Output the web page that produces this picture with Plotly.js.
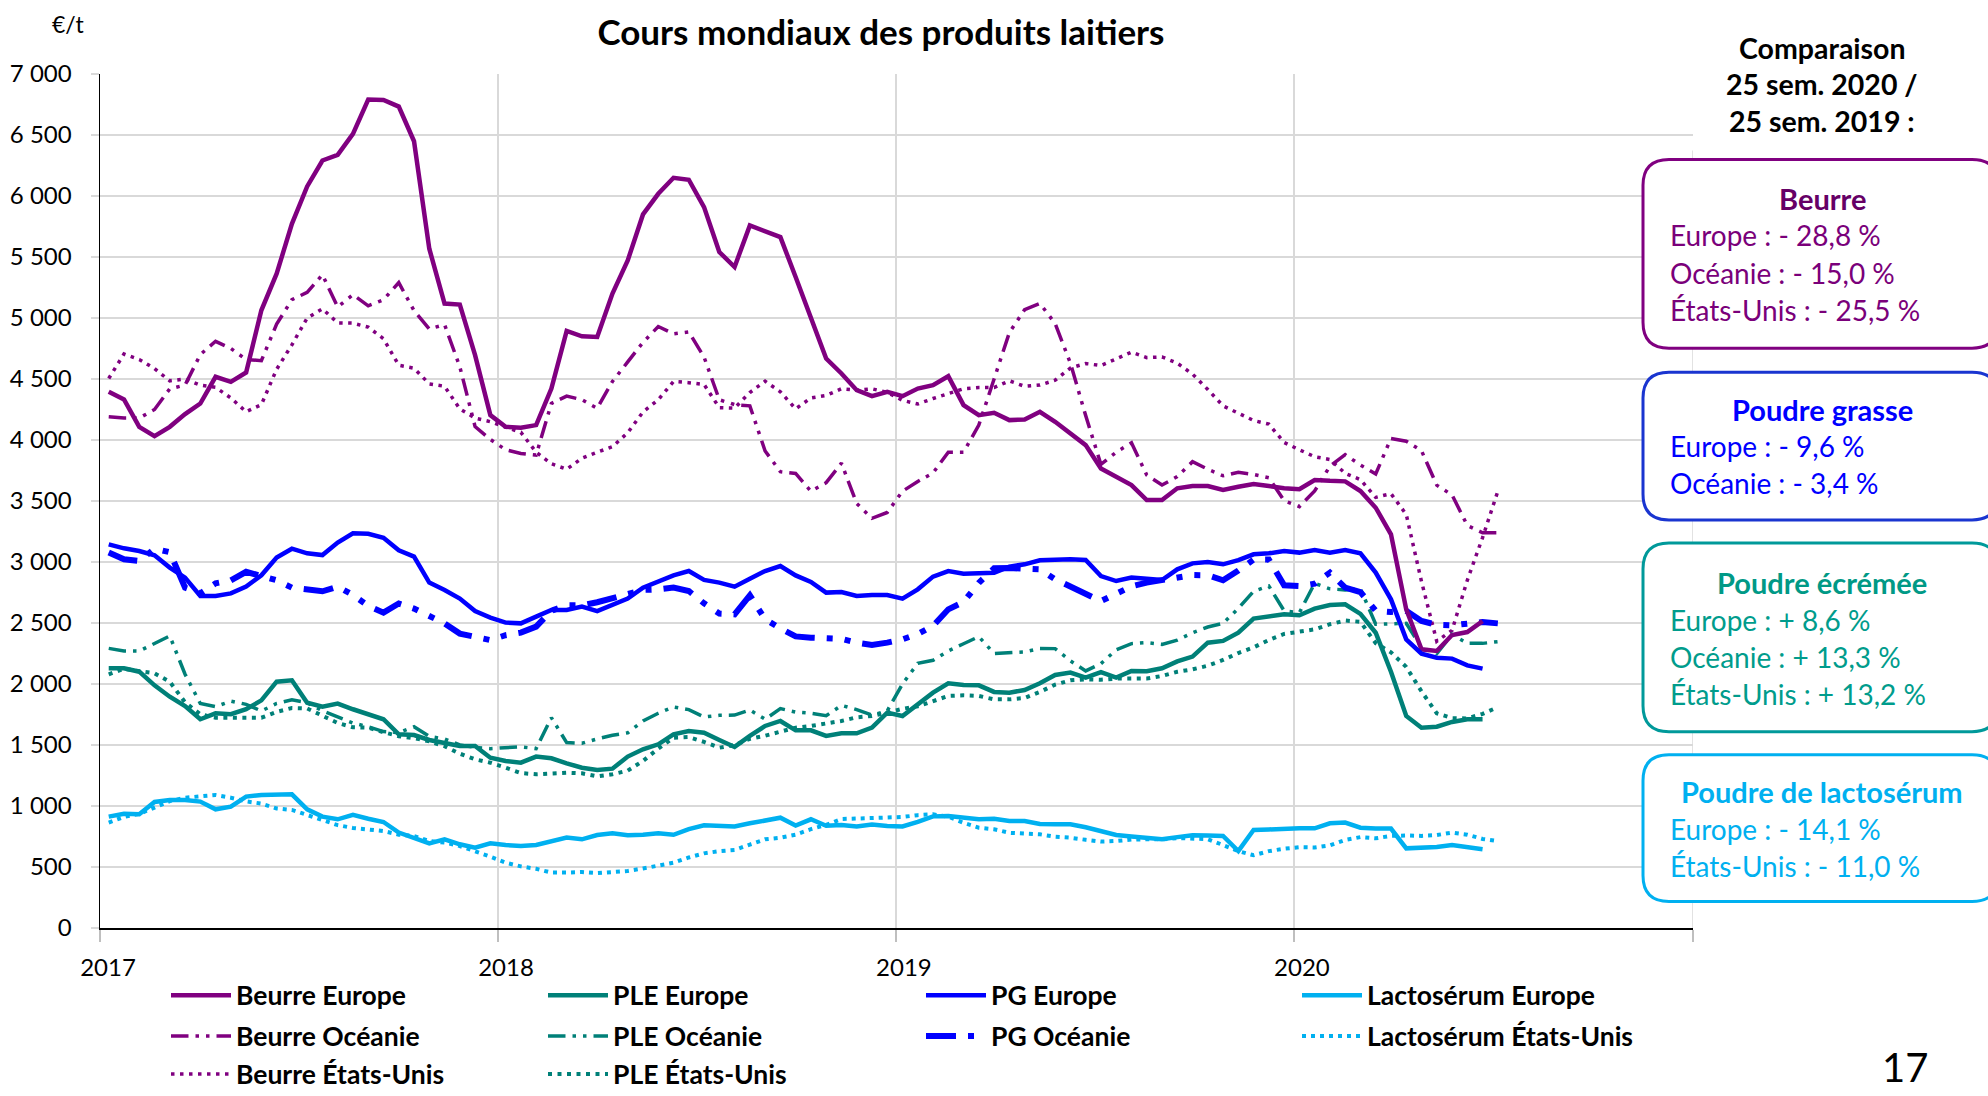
<!DOCTYPE html>
<html><head><meta charset="utf-8">
<script src="https://cdn.plot.ly/plotly-3.0.1.min.js"></script>
<style>html,body{margin:0;padding:0;background:#fff}</style>
</head><body><div id="chart" style="width:1988px;height:1096px"></div>
<script>
const dates = ['2017-01-09','2017-01-23','2017-02-06','2017-02-20','2017-03-06','2017-03-20','2017-04-03','2017-04-17','2017-05-01','2017-05-15','2017-05-29','2017-06-12','2017-06-26','2017-07-10','2017-07-24','2017-08-07','2017-08-21','2017-09-04','2017-09-18','2017-10-02','2017-10-16','2017-10-30','2017-11-13','2017-11-27','2017-12-11','2017-12-25',
'2018-01-08','2018-01-22','2018-02-05','2018-02-19','2018-03-05','2018-03-19','2018-04-02','2018-04-16','2018-04-30','2018-05-14','2018-05-28','2018-06-11','2018-06-25','2018-07-09','2018-07-23','2018-08-06','2018-08-20','2018-09-03','2018-09-17','2018-10-01','2018-10-15','2018-10-29','2018-11-12','2018-11-26','2018-12-10','2018-12-24',
'2019-01-07','2019-01-21','2019-02-04','2019-02-18','2019-03-04','2019-03-18','2019-04-01','2019-04-15','2019-04-29','2019-05-13','2019-05-27','2019-06-10','2019-06-24','2019-07-08','2019-07-22','2019-08-05','2019-08-19','2019-09-02','2019-09-16','2019-09-30','2019-10-14','2019-10-28','2019-11-11','2019-11-25','2019-12-09','2019-12-23',
'2020-01-06','2020-01-20','2020-02-03','2020-02-17','2020-03-02','2020-03-16','2020-03-30','2020-04-13','2020-04-27','2020-05-11','2020-05-25','2020-06-08','2020-06-22','2020-07-06'];

const beurreEurope = [4395,4332,4108,4032,4108,4212,4299,4518,4477,4553,
5063,5363,5772,6078,6291,6337,6509,6790,6787,6733,
6449,5568,5118,5110,4695,4204,4108,4100,4122,4422,
4894,4850,4845,5200,5472,5849,6018,6149,6133,5909,
5541,5418,5759,5712,5663,5336,5009,4668,4545,4408,
4359,4395,4359,4422,4449,4523,4286,4204,4223,4163,
4168,4231,4149,4054,3958,3767,3699,3631,3508,3508,
3604,3623,3623,3590,3617,3639,3623,3604,3596,3672,
3665,3661,3582,3445,3227,2612,2284,2271,2402,2426,2516];

const beurreOceanie = [4190,4180,4180,4250,4420,4450,4700,4809,4750,4660,
4650,4950,5150,5210,5355,5090,5191,5100,5150,5290,
5060,4910,4946,4600,4110,4005,3920,3890,3877,4300,
4360,4330,4260,4480,4640,4800,4930,4870,4886,4680,
4330,4290,4280,3910,3740,3726,3580,3650,3810,3480,
3358,3406,3580,3660,3730,3900,3900,4122,4500,4880,
5068,5120,4954,4630,4200,3800,3900,3977,3713,3631,
3700,3822,3760,3707,3735,3718,3691,3503,3454,3582,
3786,3880,3795,3722,4013,3990,3912,3630,3550,3300,
3240,3240];

const beurreEtatsUnis = [4504,4705,4660,4585,4485,4500,4449,4432,4345,4231,
4290,4580,4780,5000,5075,4960,4958,4925,4830,4613,
4588,4460,4440,4255,4180,4150,4105,4063,3900,3805,
3760,3850,3900,3945,4060,4230,4330,4480,4470,4455,
4265,4262,4389,4482,4395,4255,4345,4365,4420,4408,
4420,4390,4325,4295,4340,4378,4420,4430,4430,4485,
4440,4450,4490,4590,4627,4610,4665,4720,4675,4681,
4630,4540,4414,4280,4220,4160,4130,3980,3920,3863,
3840,3727,3675,3530,3560,3390,2840,2350,2440,2850,
3200,3580];

const pgEurope = [3145,3112,3090,3055,2954,2872,2721,2721,2743,2798,
2891,3036,3109,3071,3057,3159,3235,3232,3199,3096,
3044,2831,2771,2700,2598,2544,2503,2497,2552,2607,
2607,2634,2598,2653,2700,2790,2840,2891,2926,2853,
2831,2798,2863,2926,2967,2890,2836,2749,2754,2721,
2730,2730,2700,2776,2880,2926,2904,2907,2912,2962,
2981,3014,3022,3022,3016,2885,2844,2872,2863,2852,
2940,2989,3000,2981,3016,3063,3071,3090,3077,3098,
3077,3098,3071,2913,2694,2366,2249,2216,2208,2153,2126];

const pgOceanie = [3077,3022,3008,3109,3080,2790,2743,2825,2850,2920,
2885,2850,2790,2770,2760,2798,2730,2640,2585,2660,
2618,2557,2497,2413,2390,2360,2400,2421,2470,2600,
2645,2645,2670,2700,2740,2771,2775,2790,2762,2661,
2577,2571,2727,2530,2456,2390,2380,2378,2370,2339,
2320,2339,2366,2410,2476,2612,2672,2830,2948,2950,
2950,2940,2858,2800,2730,2680,2740,2800,2831,2850,
2880,2893,2891,2850,2930,3020,3020,2809,2803,2822,
2913,2790,2754,2600,2590,2600,2517,2485,2481,2497,
2508,2497];

const pleEurope = [2129,2129,2101,1989,1896,1820,1711,1760,1752,1793,
1866,2019,2030,1847,1814,1839,1793,1752,1711,1588,
1582,1541,1519,1492,1492,1396,1369,1355,1405,1391,
1350,1314,1295,1306,1405,1465,1506,1588,1615,1601,
1541,1484,1574,1656,1697,1620,1620,1574,1596,1596,
1642,1765,1738,1833,1929,2006,1992,1989,1935,1929,
1951,2006,2074,2093,2052,2098,2052,2107,2105,2129,
2185,2225,2339,2353,2421,2536,2557,2571,2563,2618,
2648,2653,2575,2420,2101,1738,1642,1650,1689,1711,1711];

const pleOceanie = [2292,2271,2270,2330,2394,2080,1840,1814,1860,1833,
1779,1840,1870,1847,1780,1730,1680,1650,1610,1601,
1650,1570,1550,1500,1480,1470,1475,1485,1470,1724,
1520,1514,1550,1580,1600,1697,1760,1812,1790,1730,
1743,1745,1787,1711,1798,1770,1760,1740,1825,1790,
1745,1780,2000,2170,2194,2271,2330,2388,2250,2260,
2263,2292,2290,2190,2107,2167,2280,2331,2339,2325,
2360,2420,2467,2497,2620,2760,2803,2600,2585,2825,
2780,2771,2781,2490,2497,2497,2300,2249,2407,2333,
2333,2347];

const pleEtatsUnis = [2079,2125,2105,2088,2018,1850,1752,1724,1724,1724,
1724,1771,1803,1800,1738,1680,1645,1642,1605,1572,
1556,1530,1490,1429,1383,1355,1314,1270,1260,1265,
1273,1268,1243,1260,1290,1369,1470,1560,1565,1525,
1478,1500,1550,1576,1612,1642,1656,1675,1697,1727,
1738,1765,1797,1817,1863,1902,1907,1902,1874,1874,
1885,1935,1995,2030,2038,2035,2044,2046,2045,2066,
2100,2120,2150,2197,2254,2300,2361,2410,2430,2448,
2490,2520,2510,2335,2260,2140,1940,1760,1720,1718,
1755,1810];

const lactEurope = [913,937,932,1033,1049,1049,1036,973,995,1077,
1090,1090,1096,973,913,891,927,896,869,782,
735,694,727,686,659,694,680,672,680,708,
741,727,762,776,760,765,776,764,810,842,
836,832,858,877,904,840,891,838,845,832,
848,836,832,870,915,918,906,892,896,878,
877,852,850,850,826,798,763,750,738,727,
745,760,758,754,631,803,808,815,817,817,
858,864,822,815,815,653,658,664,680,664,645];

const lactEtatsUnis = [864,910,935,984,1040,1068,1082,1090,1068,1038,
1020,980,968,925,890,843,820,809,795,765,
754,713,700,672,630,585,535,505,485,454,
454,459,450,462,467,488,508,535,578,612,
630,640,684,727,740,765,810,845,893,896,
896,900,910,925,932,912,862,822,809,780,
776,768,748,740,723,708,713,725,727,727,
737,735,728,680,630,596,630,650,662,660,
678,722,745,735,755,758,755,762,782,765,
730,712];

const yearTicks = ['2017-01-01','2018-01-01','2019-01-01','2020-01-01','2021-01-01'];
const yearLabels = ['2017','2018','2019','2020',''];

const boxTitles = ['Beurre','Poudre grasse','Poudre écrémée','Poudre de lactosérum'];
const boxLines = [
  ['Europe : - 28,8 %','Océanie : - 15,0 %','États-Unis : - 25,5 %'],
  ['Europe : - 9,6 %','Océanie : - 3,4 %'],
  ['Europe : + 8,6 %','Océanie : + 13,3 %','États-Unis : + 13,2 %'],
  ['Europe : - 14,1 %','États-Unis : - 11,0 %']
];
const headerLines = ['Comparaison','25 sem. 2020 /','25 sem. 2019 :'];

// ---------- styling / layout ----------
const PURPLE = '#800080', TEAL = '#008078', BLUE = '#0000FF', LIGHT = '#00B0F0';
const FONT = 'Lato, "Open Sans", sans-serif';
const L = 100, R = 1693, T = 73.5, B = 928.5;
const px = X => (X - L) / (R - L);
const py = Y => (B - Y) / (B - T);

function tr(name, y, color, width, dash, legendId) {
  return {type:'scatter', mode:'lines', name, x: dates.slice(0, y.length), y,
    line:{color, width, dash}, legend: legendId, hoverinfo:'skip'};
}
const OCE = w => `${5*w}px,${2*w}px,${w}px,${2*w}px,${w}px,${2*w}px`;

const traces = [
  tr('Beurre États-Unis', beurreEtatsUnis, PURPLE, 3.5, '3.5px,5.5px', 'legend9'),
  tr('PLE États-Unis', pleEtatsUnis, TEAL, 4, '4px,5.5px', 'legend10'),
  tr('Lactosérum États-Unis', lactEtatsUnis, LIGHT, 4, '4px,5px', 'legend8'),
  tr('Beurre Océanie', beurreOceanie, PURPLE, 3.5, OCE(3.5), 'legend5'),
  tr('PLE Océanie', pleOceanie, TEAL, 3.5, OCE(3.5), 'legend6'),
  tr('PG Océanie', pgOceanie, BLUE, 6, OCE(6), 'legend7'),
  tr('Beurre Europe', beurreEurope, PURPLE, 4.5, 'solid', 'legend'),
  tr('PLE Europe', pleEurope, TEAL, 4.5, 'solid', 'legend2'),
  tr('PG Europe', pgEurope, BLUE, 4.5, 'solid', 'legend3'),
  tr('Lactosérum Europe', lactEurope, LIGHT, 4.5, 'solid', 'legend4')
];

const colX = [171, 548, 926, 1302];
const rowY = [996, 1037, 1075];
const legendPos = {
  legend:[0,0], legend2:[1,0], legend3:[2,0], legend4:[3,0],
  legend5:[0,1], legend6:[1,1], legend7:[2,1], legend8:[3,1],
  legend9:[0,2], legend10:[1,2]
};

const layout = {
  width:1988, height:1096,
  margin:{l:L, r:1988-R, t:T, b:1096-B, autoexpand:false, pad:0},
  paper_bgcolor:'#fff', plot_bgcolor:'#fff',
  font:{family:FONT, color:'#000', size:24},
  separators:', ',
  title:{text:'Cours mondiaux des produits laitiers', font:{family:FONT, size:35, weight:'bold', color:'#000'},
    xref:'container', x:881/1988, xanchor:'center', yref:'container', y:1-33/1096, yanchor:'middle'},
  xaxis:{type:'date', range:['2017-01-01','2021-01-01'], tickvals:yearTicks, ticktext:yearLabels,
    showgrid:true, gridcolor:'#d9d9d9', gridwidth:1.5, showline:true, linecolor:'#000', linewidth:1.5,
    ticks:'outside', ticklen:12, tickcolor:'#bfbfbf', tickwidth:1.5, tickfont:{size:24, family:FONT},
    ticklabelshift:8, ticklabelstandoff:6, zeroline:false, fixedrange:true},
  yaxis:{range:[0,7000], tick0:0, dtick:500, tickformat:',d',
    showgrid:true, gridcolor:'#d9d9d9', gridwidth:1.5, showline:true, linecolor:'#000', linewidth:1.5,
    ticks:'outside', ticklen:8, tickcolor:'#d9d9d9', tickwidth:1.5, tickfont:{size:24, family:FONT},
    ticklabelstandoff:14, zeroline:false, fixedrange:true},
  showlegend:true,
  shapes:[], annotations:[]
};

Object.entries(legendPos).forEach(([id,[c,r]]) => {
  layout[id] = {x:px(colX[c]-5), xref:'paper', xanchor:'left', y:py(rowY[r]), yref:'paper', yanchor:'middle',
    orientation:'h', itemwidth:60, bgcolor:'rgba(0,0,0,0)', borderwidth:0,
    font:{family:FONT, size:26.5, weight:'bold', color:'#000'}, itemclick:false, itemdoubleclick:false};
});

// white cover right of the gridlines, 2021 tick line
layout.shapes.push({type:'rect', xref:'paper', yref:'paper', x0:px(1643), x1:px(1700), y0:0.001, y1:1.01,
  fillcolor:'#fff', line:{width:0}, layer:'between'});
layout.shapes.push({type:'line', xref:'x', yref:'paper', x0:'2021-01-01', x1:'2021-01-01', y0:0, y1:py(150),
  line:{color:'#d9d9d9', width:1.5}, layer:'between'});

function roundBox(x0,y0,x1,y1,r){
  const p=(X,Y)=>px(X)+','+py(Y);
  return `M${p(x0+r,y0)} L${p(x1-r,y0)} Q${p(x1,y0)} ${p(x1,y0+r)} L${p(x1,y1-r)} Q${p(x1,y1)} ${p(x1-r,y1)} L${p(x0+r,y1)} Q${p(x0,y1)} ${p(x0,y1-r)} L${p(x0,y0+r)} Q${p(x0,y0)} ${p(x0+r,y0)} Z`;
}
const boxes = [
  {y0:159, y1:348, border:PURPLE, title:'#660066', text:'#7A007A', titleY:198, lineY:[235,273,310]},
  {y0:372, y1:520, border:'#1a35d0', title:BLUE, text:BLUE, titleY:409, lineY:[446,483]},
  {y0:543, y1:732, border:'#00999a', title:'#009986', text:'#009c8c', titleY:583, lineY:[620,657,694]},
  {y0:755, y1:902, border:LIGHT, title:LIGHT, text:LIGHT, titleY:792, lineY:[829,866]}
];
boxes.forEach((b,i) => {
  layout.shapes.push({type:'path', xref:'paper', yref:'paper', path:roundBox(1643,b.y0,1998,b.y1,26),
    fillcolor:'#fff', line:{color:b.border, width:3}, layer:'above'});
  layout.annotations.push({xref:'paper', yref:'paper', x:px(1822), y:py(b.titleY), xanchor:'center', yanchor:'middle',
    text:boxTitles[i], showarrow:false, font:{family:FONT, size:29, weight:'bold', color:b.title}});
  boxLines[i].forEach((t,j) => layout.annotations.push({xref:'paper', yref:'paper', x:px(1668), y:py(b.lineY[j]),
    xanchor:'left', yanchor:'middle', text:t, showarrow:false, font:{family:FONT, size:28, color:b.text}}));
});
headerLines.forEach((t,j) => layout.annotations.push({xref:'paper', yref:'paper', x:px(1822), y:py([47,84,121][j]),
  xanchor:'center', yanchor:'middle', text:t, showarrow:false, font:{family:FONT, size:28.5, weight:'bold', color:'#000'}}));
layout.annotations.push({xref:'paper', yref:'paper', x:px(68), y:py(23), xanchor:'center', yanchor:'middle',
  text:'€/t', showarrow:false, font:{family:FONT, size:23, color:'#000'}});
layout.annotations.push({xref:'paper', yref:'paper', x:px(1905), y:py(1094), xanchor:'center', yanchor:'bottom',
  text:'17', showarrow:false, font:{family:FONT, size:40, color:'#000'}});

Plotly.newPlot('chart', traces, layout, {displayModeBar:false, staticPlot:true});
</script>
</body></html>
